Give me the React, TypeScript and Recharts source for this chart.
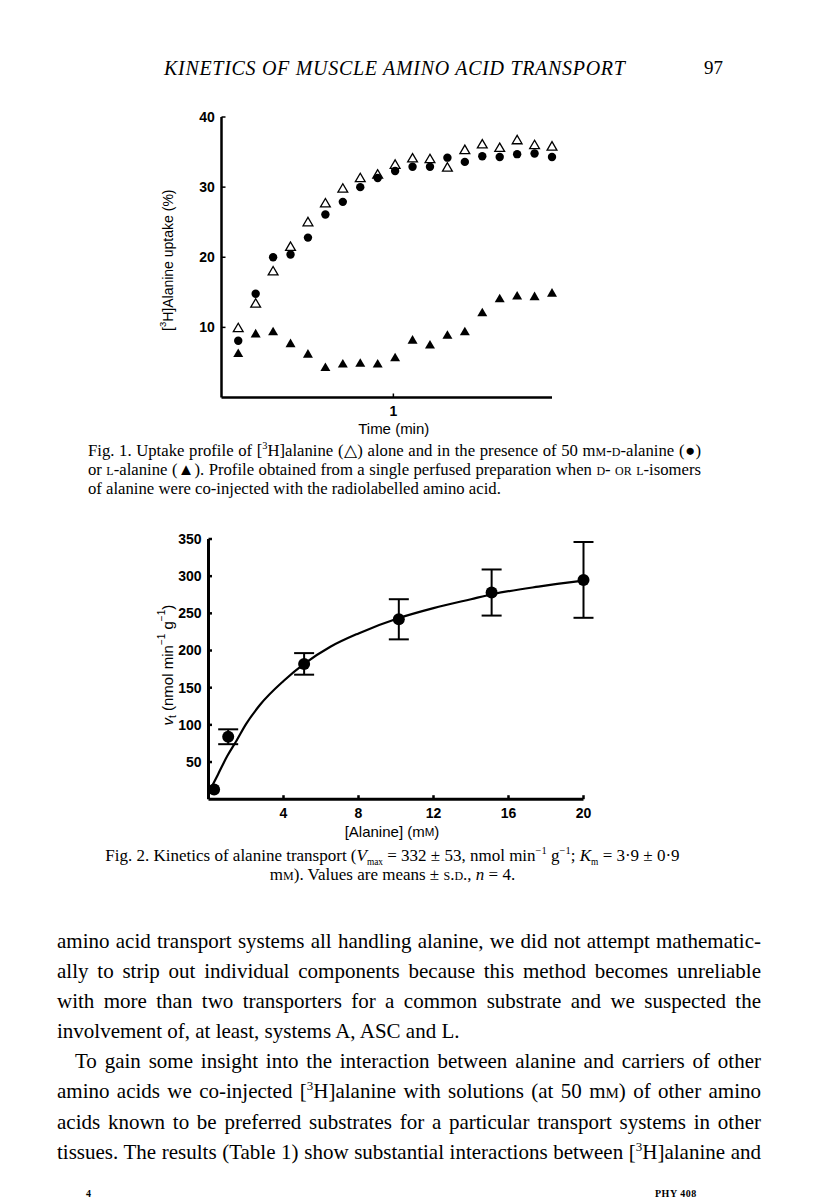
import React from 'react';
import { ScatterChart, ComposedChart, Scatter, Line, XAxis, YAxis, ErrorBar, Label } from 'recharts';

// Fig. 1: sampling times (s) and [3H]alanine uptake (%)
const fig1Times = [15.5, 20.5, 25.5, 30.5, 35.5, 40.5, 45.5, 50.5, 55.5, 60.5, 65.5, 70.5, 75.5, 80.5, 85.5, 90.5, 95.5, 100.5, 105.5];
const alanineAlone = [9.9, 13.4, 18.0, 21.5, 25.0, 27.7, 29.8, 31.3, 31.8, 33.2, 34.1, 34.0, 32.8, 35.3, 36.1, 35.6, 36.7, 36.0, 35.8];
const withDAlanine = [8.1, 14.8, 20.0, 20.4, 22.8, 26.1, 27.9, 30.0, 31.3, 32.3, 32.9, 32.9, 34.2, 33.6, 34.4, 34.3, 34.7, 34.8, 34.3];
const withLAlanine = [6.3, 9.1, 9.4, 7.7, 6.2, 4.3, 4.8, 4.9, 4.8, 5.7, 8.2, 7.5, 8.9, 9.4, 12.1, 14.1, 14.5, 14.4, 14.9];
const fig1YTicks = [10, 20, 30, 40];
const fig1XTicks = [60];

// Fig. 2: alanine concentration (mM) vs transport rate, means and s.d.
const alanineConc = [0.3, 1.05, 5.1, 10.15, 15.1, 20];
const transportRate = [13, 84, 182, 242, 278, 295];
const rateSD = [0, 10, 14.5, 27, 31, 51];
// fitted curve as drawn
const fitConc = [0.1, 0.5, 1, 1.5, 2, 2.75, 4, 5.1, 6.5, 8, 10.2, 12, 14, 15.2, 17.6, 20];
const fitRate = [13, 33, 58, 79, 101, 127, 159, 182, 205, 223, 244, 257, 269, 276, 286, 294];
const fig2YTicks = [50, 100, 150, 200, 250, 300, 350];
const fig2XTicks = [4, 8, 12, 16, 20];

const sans = '"Liberation Sans", Arial, Helvetica, sans-serif';
const serif = '"Liberation Serif", "Times New Roman", serif';

const tickStyle = { fill: '#000', fontSize: 14, fontWeight: 700, fontFamily: sans };

const openTriangle = (p: any) => (
  <polygon
    points={`${p.cx},${p.cy - 4.8} ${p.cx - 4.9},${p.cy + 3.6} ${p.cx + 4.9},${p.cy + 3.6}`}
    fill="#fff" stroke="#000" strokeWidth={1.3}
  />
);
const solidTriangle = (p: any) => (
  <polygon
    points={`${p.cx},${p.cy - 4.9} ${p.cx - 5},${p.cy + 3.7} ${p.cx + 5},${p.cy + 3.7}`}
    fill="#000"
  />
);
const smallDot = (p: any) => <circle cx={p.cx} cy={p.cy} r={4.2} fill="#000" />;
const bigDot = (p: any) => <circle cx={p.cx} cy={p.cy} r={6} fill="#000" />;

const vbOf = (props: any) => props.viewBox || { x: 0, y: 0, width: 0, height: 0 };

const Fig1YLabel = (props: any) => {
  const vb = vbOf(props);
  const cx = vb.x + 28;
  const cy = vb.y + vb.height / 2 + 3;
  return (
    <text transform={`translate(${cx},${cy}) rotate(-90)`} textAnchor="middle" dominantBaseline="central"
      fontFamily={sans} fontSize={14} fill="#000">
      [<tspan baselineShift="super" fontSize={9.5}>3</tspan><tspan>H]Alanine uptake (%)</tspan>
    </text>
  );
};

const Fig1XLabel = (props: any) => {
  const vb = vbOf(props);
  return (
    <text x={vb.x + vb.width / 2 + 7} y={vb.y + 30.5} textAnchor="middle" dominantBaseline="central"
      fontFamily={sans} fontSize={15} fill="#000">Time (min)</text>
  );
};

const Fig2YLabel = (props: any) => {
  const vb = vbOf(props);
  const cx = vb.x + 37;
  const cy = vb.y + vb.height / 2 - 4;
  return (
    <text transform={`translate(${cx},${cy}) rotate(-90)`} textAnchor="middle" dominantBaseline="central"
      fontFamily={sans} fontSize={15} fill="#000">
      <tspan fontStyle="italic">v</tspan><tspan baselineShift="sub" fontSize={10}>t</tspan>
      <tspan> (nmol min</tspan><tspan baselineShift="super" fontSize={10}>−1</tspan>
      <tspan> g</tspan><tspan baselineShift="super" fontSize={10}>−1</tspan><tspan>)</tspan>
    </text>
  );
};

const Fig2XLabel = (props: any) => {
  const vb = vbOf(props);
  return (
    <text x={vb.x + vb.width / 2 - 4} y={vb.y + 32.5} textAnchor="middle" dominantBaseline="central"
      fontFamily={sans} fontSize={15} fill="#000">
      [Alanine] (m<tspan fontSize={11.5}>M</tspan>)
    </text>
  );
};

const SC = ({ children }: { children: React.ReactNode }) => (
  <span style={{ fontVariant: 'small-caps' }}>{children}</span>
);
const Sup = ({ children }: { children: React.ReactNode }) => (
  <span style={{ verticalAlign: 'super', fontSize: '0.62em', lineHeight: 0 }}>{children}</span>
);
const Sub = ({ children }: { children: React.ReactNode }) => (
  <span style={{ verticalAlign: 'sub', fontSize: '0.55em', lineHeight: 0 }}>{children}</span>
);

const justified: React.CSSProperties = { textAlign: 'justify', textAlignLast: 'justify', whiteSpace: 'nowrap' };

const App = () => {
  const fig1Open = fig1Times.map((t, i) => ({ t, v: alanineAlone[i] }));
  const fig1D = fig1Times.map((t, i) => ({ t, v: withDAlanine[i] }));
  const fig1L = fig1Times.map((t, i) => ({ t, v: withLAlanine[i] }));
  const fig2Points = alanineConc.map((x, i) => ({ x, v: transportRate[i], sd: rateSD[i] }));
  const fig2Fit = fitConc.map((x, i) => ({ x, v: fitRate[i] }));

  return (
    <div style={{ position: 'absolute', left: 0, top: 0, width: 816, height: 1203, background: '#fff', color: '#000', overflow: 'hidden' }}>
      {/* running head */}
      <div style={{ position: 'absolute', left: 164, top: 56, fontFamily: serif, fontStyle: 'italic', fontSize: 20, letterSpacing: 0.7, lineHeight: '24px', whiteSpace: 'nowrap' }}>
        KINETICS OF MUSCLE AMINO ACID TRANSPORT
      </div>
      <div style={{ position: 'absolute', left: 704, top: 56, fontFamily: serif, fontSize: 19, lineHeight: '24px' }}>97</div>

      {/* Fig. 1 */}
      <div style={{ position: 'absolute', left: 140, top: 100 }}>
        <ScatterChart width={420} height={345} margin={{ top: 17, right: 8, bottom: 0, left: 0 }}>
          <XAxis type="number" dataKey="t" domain={[10.7, 105.5]} ticks={fig1XTicks}
            tickFormatter={(v: number) => String(v / 60)} height={47.5} tickSize={-4} tickMargin={12.5}
            axisLine={{ stroke: '#000', strokeWidth: 2.5 }} tickLine={{ stroke: '#000', strokeWidth: 1.5 }} tick={tickStyle}>
            <Label content={Fig1XLabel} />
          </XAxis>
          <YAxis type="number" dataKey="v" domain={[0, 40]} ticks={fig1YTicks} width={81.5} tickSize={-4} tickMargin={10.7}
            axisLine={{ stroke: '#000', strokeWidth: 2.5 }} tickLine={{ stroke: '#000', strokeWidth: 1.5 }} tick={tickStyle}>
            <Label content={Fig1YLabel} />
          </YAxis>
          <Scatter data={fig1Open} shape={openTriangle} isAnimationActive={false} />
          <Scatter data={fig1D} shape={smallDot} isAnimationActive={false} />
          <Scatter data={fig1L} shape={solidTriangle} isAnimationActive={false} />
        </ScatterChart>
      </div>

      <div style={{ position: 'absolute', left: 88, top: 440.5, width: 613, fontFamily: serif, fontSize: 16.7, lineHeight: '19px' }}>
        <div style={justified}>Fig. 1. Uptake profile of [<Sup>3</Sup>H]alanine (△) alone and in the presence of 50 m<SC>m-d</SC>-alanine (●)</div>
        <div style={justified}>or <SC>l</SC>-alanine (▲). Profile obtained from a single perfused preparation when <SC>d- or l-</SC>isomers</div>
        <div style={{ whiteSpace: 'nowrap' }}>of alanine were co-injected with the radiolabelled amino acid.</div>
      </div>

      {/* Fig. 2 */}
      <div style={{ position: 'absolute', left: 130, top: 520 }}>
        <ComposedChart width={470} height={330} margin={{ top: 19, right: 16.5, bottom: 0, left: 0 }}>
          <XAxis type="number" dataKey="x" domain={[0, 20]} ticks={fig2XTicks} height={50.8}
            tickSize={-4} tickMargin={12.8} axisLine={{ stroke: '#000', strokeWidth: 3 }}
            tickLine={{ stroke: '#000', strokeWidth: 2.5 }} tick={tickStyle}>
            <Label content={Fig2XLabel} />
          </XAxis>
          <YAxis type="number" dataKey="v" domain={[0, 350]} ticks={fig2YTicks} width={78.5} tickSize={-3.5} tickMargin={10.5}
            axisLine={{ stroke: '#000', strokeWidth: 3 }} tickLine={{ stroke: '#000', strokeWidth: 2.5 }} tick={tickStyle}>
            <Label content={Fig2YLabel} />
          </YAxis>
          <Line data={fig2Fit} dataKey="v" type="monotone" stroke="#000" strokeWidth={2.2} dot={false}
            isAnimationActive={false} />
          <Scatter data={fig2Points} dataKey="v" shape={bigDot} isAnimationActive={false}>
            <ErrorBar dataKey="sd" direction="y" width={10} stroke="#000" strokeWidth={2} isAnimationActive={false} />
          </Scatter>
        </ComposedChart>
      </div>

      <div style={{ position: 'absolute', left: 0, top: 846, width: 785, textAlign: 'center', fontFamily: serif, fontSize: 17, lineHeight: '19px', whiteSpace: 'nowrap' }}>
        <div>Fig. 2. Kinetics of alanine transport (<i>V</i><Sub>max</Sub> = 332 ± 53, nmol min<Sup>−1</Sup> g<Sup>−1</Sup>; <i>K</i><Sub>m</Sub> = 3·9 ± 0·9</div>
        <div>m<SC>m</SC>). Values are means ± <SC>s.d.</SC>, <i>n</i> = 4.</div>
      </div>

      {/* body text */}
      <div style={{ position: 'absolute', left: 57, top: 926, width: 704, fontFamily: serif, fontSize: 21, lineHeight: '30.1px' }}>
        <div style={justified}>amino acid transport systems all handling alanine, we did not attempt mathematic-</div>
        <div style={justified}>ally to strip out individual components because this method becomes unreliable</div>
        <div style={justified}>with more than two transporters for a common substrate and we suspected the</div>
        <div style={{ whiteSpace: 'nowrap' }}>involvement of, at least, systems A, ASC and L.</div>
        <div style={{ ...justified, paddingLeft: 18 }}>To gain some insight into the interaction between alanine and carriers of other</div>
        <div style={justified}>amino acids we co-injected [<Sup>3</Sup>H]alanine with solutions (at 50 m<SC>m</SC>) of other amino</div>
        <div style={justified}>acids known to be preferred substrates for a particular transport systems in other</div>
        <div style={justified}>tissues. The results (Table 1) show substantial interactions between [<Sup>3</Sup>H]alanine and</div>
      </div>

      <div style={{ position: 'absolute', left: 86, top: 1188, fontFamily: serif, fontSize: 10, fontWeight: 700 }}>4</div>
      <div style={{ position: 'absolute', left: 655, top: 1188, fontFamily: serif, fontSize: 10, fontWeight: 700, letterSpacing: 0.5 }}>PHY 408</div>
    </div>
  );
};

export default App;
